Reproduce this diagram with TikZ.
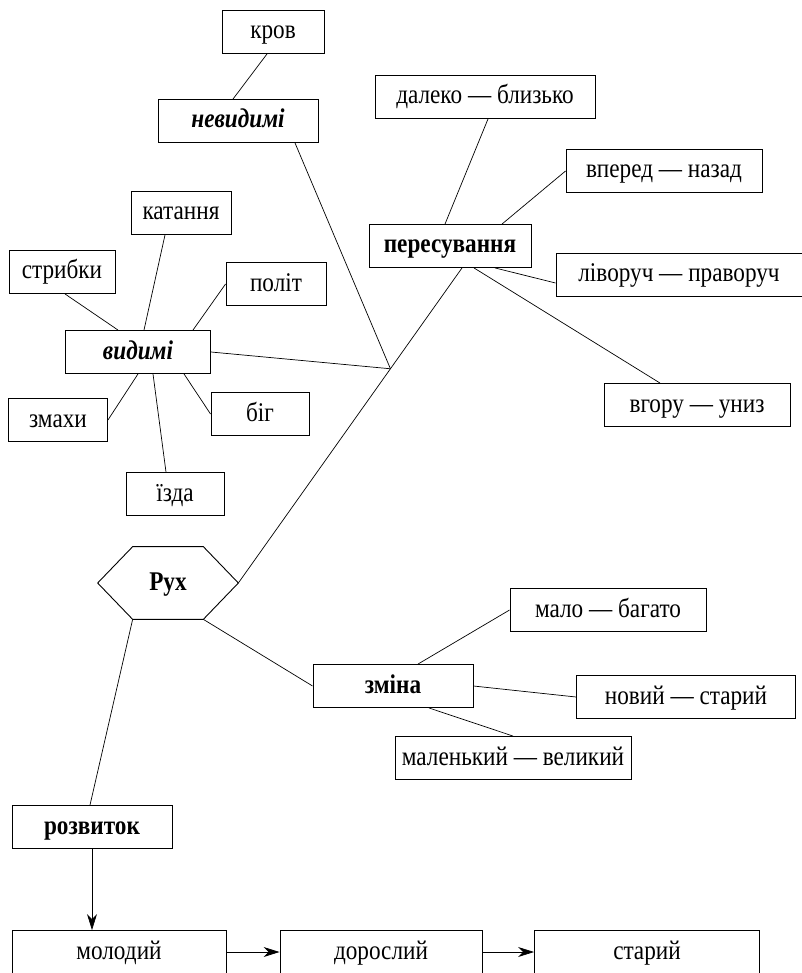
\documentclass[tikz,border=0pt]{standalone}
\usepackage{fontspec}
\setmainfont{Liberation Serif}[FakeStretch=0.86]
\usetikzlibrary{arrows.meta}

\begin{document}
\begin{tikzpicture}[x=1pt,y=-1pt,>={Stealth[length=16pt,width=10pt]},line width=0.7pt]
 \tikzstyle{every node}=[font=\fontsize{27}{30}\selectfont]
 \tikzstyle{box}=[draw,rectangle,line width=0.9pt,minimum height=43pt,inner sep=0pt,text height=18pt,text depth=4pt]
 \useasboundingbox (0,0) rectangle (801,973);

 % motion: hexagon in the middle
 \node (rukh) at (168,583) [minimum width=140pt,minimum height=72pt,inner sep=0pt,text height=18pt,text depth=4pt] {\textbf{Рух}};
 \draw[line width=0.9pt] (rukh.west) -- ([xshift=35pt]rukh.north west) -- ([xshift=-35pt]rukh.north east)
   -- (rukh.east) -- ([xshift=-35pt]rukh.south east) -- ([xshift=35pt]rukh.south west) -- cycle;

 % upper left branch
 \node (krov) at (273,32) [box,minimum width=102pt] {кров};
 \node (nevyd) at (238,121) [box,minimum width=160pt] {\textbf{\textit{невидимі}}};
 \node (vyd) at (138,352) [box,minimum width=145pt] {\textbf{\textit{видимі}}};
 \node (katan) at (181,213) [box,minimum width=100pt] {катання};
 \node (strib) at (62,272) [box,minimum width=106pt] {стрибки};
 \node (polit) at (276,284) [box,minimum width=100pt] {політ};
 \node (zmakh) at (58,420) [box,minimum width=99pt] {змахи};
 \node (big) at (260,414) [box,minimum width=98pt] {біг};
 \node (izda) at (175,494) [box,minimum width=98pt] {їзда};

 % upper right branch
 \node (peres) at (450,246) [box,minimum width=162pt] {\textbf{пересування}};
 \node (dalek) at (485,97) [box,minimum width=220pt] {далеко — близько};
 \node (vpered) at (664,171) [box,minimum width=196pt] {вперед — назад};
 \node (livo) at (679,275) [box,minimum width=246pt] {ліворуч — праворуч};
 \node (vgoru) at (697,405) [box,minimum width=186pt] {вгору — униз};

 % change
 \node (zmina) at (393,686) [box,minimum width=160pt] {\textbf{зміна}};
 \node (malo) at (608,610) [box,minimum width=196pt] {мало — багато};
 \node (novyi) at (686,697) [box,minimum width=219pt] {новий — старий};
 \node (malen) at (513,758) [box,minimum width=236pt] {маленький — великий};

 % development
 \node (rozv) at (92,827) [box,minimum width=160pt] {\textbf{розвиток}};
 \node (molod) at (119,952) [box,minimum width=214pt] {молодий};
 \node (dorosl) at (381,952) [box,minimum width=202pt] {дорослий};
 \node (starii) at (647,952) [box,minimum width=225pt] {старий};

 \draw (rukh.east) -- coordinate[pos=0.68] (junc) ([xshift=12pt]peres.south);
 \draw ([xshift=-6pt]krov.south) -- ([xshift=-5pt]nevyd.north);
 \draw ([xshift=57pt]nevyd.south) -- (junc);
 \draw (vyd.east) -- (junc);

 \draw ([xshift=-5pt]peres.north) -- ([xshift=3pt]dalek.south);
 \draw ([xshift=52pt]peres.north) -- (vpered.west);
 \draw ([xshift=45pt]peres.south) -- ([yshift=-8pt]livo.west);
 \draw ([xshift=24pt]peres.south) -- ([xshift=-37pt]vgoru.north);

 \draw ([xshift=3pt]strib.south) -- ([xshift=-20pt]vyd.north);
 \draw ([xshift=-16pt]katan.south) -- ([xshift=6pt]vyd.north);
 \draw (polit.west) -- ([xshift=55pt]vyd.north);
 \draw (zmakh.east) -- (vyd.south);
 \draw ([xshift=-9pt]izda.north) -- ([xshift=15pt]vyd.south);
 \draw (big.west) -- ([xshift=46pt]vyd.south);

 \draw ([xshift=-35pt]rukh.south east) -- (zmina.west);
 \draw ([xshift=25pt]zmina.north) -- (malo.west);
 \draw (zmina.east) -- (novyi.west);
 \draw ([xshift=36pt]zmina.south) -- (malen.north);

 \draw ([xshift=35pt]rukh.south west) -- ([xshift=-2pt]rozv.north);
 \draw [->] (rozv.south) -- (rozv.south |- molod.north);
 \draw [->] (molod) -- (dorosl);
 \draw [->] (dorosl) -- (starii);
\end{tikzpicture}
\end{document}
